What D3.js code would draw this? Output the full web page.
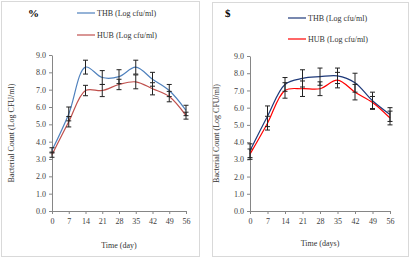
<!DOCTYPE html>
<style>
  body { margin: 0; background: #fff; }
  svg { display: block; font-family: 'Liberation Serif', serif; }
  .frame { fill: #fff; stroke: #d9d9d9; }
  .axis path, .axis line { stroke: #868686; }
  .axis text { font-size: 8px; fill: #404040; font-family: 'Liberation Serif', serif; }
  .err { stroke: #222; stroke-width: 1; }
  .ttl { font-size: 8px; fill: #333; }
</style>
<body>
</body>
<script src="https://cdn.jsdelivr.net/npm/d3@7"></script>
<script>
  const days = [0, 7, 14, 21, 28, 35, 42, 49, 56];
  const yTicks = [0, 1, 2, 3, 4, 5, 6, 7, 8, 9];

  // panel % (left)
  const thbA = [3.5, 5.6, 8.3, 7.7, 7.75, 8.3, 7.6, 6.95, 5.8];
  const thbAErr = [0.15, 0.4, 0.4, 0.4, 0.4, 0.4, 0.4, 0.35, 0.3];
  const hubA = [3.25, 5.15, 6.95, 6.95, 7.3, 7.45, 7.05, 6.6, 5.5];
  const hubAErr = [0.15, 0.3, 0.3, 0.35, 0.3, 0.4, 0.35, 0.3, 0.2];

  // panel $ (right)
  const thbB = [3.5, 5.5, 7.35, 7.7, 7.8, 7.85, 7.45, 6.4, 5.6];
  const thbBErr = [0.4, 0.6, 0.4, 0.5, 0.5, 0.45, 0.55, 0.5, 0.4];
  const hubB = [3.3, 5.1, 7.0, 7.1, 7.1, 7.6, 6.9, 6.3, 5.4];
  const hubBErr = [0.3, 0.4, 0.45, 0.45, 0.4, 0.45, 0.45, 0.35, 0.4];

  const svg = d3.select('body').append('svg')
    .attr('width', 409).attr('height', 258);

  function panel(p) {
    const g = svg.append('g');
    g.append('rect').attr('class', 'frame')
      .attr('x', p.box[0] + 0.5).attr('y', p.box[1] + 0.5)
      .attr('width', p.box[2]).attr('height', p.box[3]);

    const x = d3.scaleLinear().domain([0, 56]).range([p.x0, p.x1]);
    const y = d3.scaleLinear().domain([0, 9]).range([p.y0, p.y1]);

    g.append('g').attr('class', 'axis')
      .attr('transform', `translate(${p.x0},0)`)
      .call(d3.axisLeft(y).tickValues(yTicks).tickSize(3).tickSizeOuter(0)
        .tickFormat(d3.format('.1f')));
    g.append('g').attr('class', 'axis')
      .attr('transform', `translate(0,${p.y0})`)
      .call(d3.axisBottom(x).tickValues(days).tickSize(3).tickSizeOuter(0)
        .tickPadding(4));

    const line = d3.line()
      .x((d, i) => x(days[i])).y(d => y(d))
      .curve(d3.curveCatmullRom.alpha(0.5));

    p.series.forEach(s => {
      g.append('path').attr('d', line(s.vals))
        .attr('fill', 'none').attr('stroke', s.color).attr('stroke-width', 1.2);
    });
    p.series.forEach(s => {
      const eg = g.append('g').attr('class', 'err');
      s.vals.forEach((v, i) => {
        const cx = x(days[i]), lo = y(v - s.err[i]), hi = y(v + s.err[i]);
        eg.append('line').attr('x1', cx).attr('x2', cx).attr('y1', lo).attr('y2', hi);
        eg.append('line').attr('x1', cx - 2.5).attr('x2', cx + 2.5).attr('y1', lo).attr('y2', lo);
        eg.append('line').attr('x1', cx - 2.5).attr('x2', cx + 2.5).attr('y1', hi).attr('y2', hi);
      });
    });

    // legend
    p.series.forEach((s, i) => {
      const ly = p.legY[i];
      g.append('line').attr('x1', p.legX).attr('x2', p.legX + 18)
        .attr('y1', ly).attr('y2', ly).attr('stroke', s.color).attr('stroke-width', 1.2);
      g.append('text').attr('class', 'ttl').attr('x', p.legX + 20).attr('y', ly + 3)
        .text(s.name);
    });

    g.append('text').attr('x', p.mark[0]).attr('y', p.mark[1])
      .attr('font-size', 11).attr('font-weight', 'bold').text(p.label);

    g.append('text').attr('class', 'ttl')
      .attr('transform', `translate(${p.yTitleX},${(p.y0 + p.y1) / 2}) rotate(-90)`)
      .attr('text-anchor', 'middle').text('Bacterial Count (Log CFU/ml)');
    g.append('text').attr('class', 'ttl')
      .attr('x', (p.x0 + p.x1) / 2).attr('y', p.xTitleY)
      .attr('text-anchor', 'middle').text(p.xTitle);
  }

  panel({
    box: [1, 1, 198, 255], x0: 52, x1: 186, y0: 211, y1: 55,
    legX: 77, legY: [13, 35], mark: [28, 17], label: '%',
    yTitleX: 14, xTitleY: 248, xTitle: 'Time (day)',
    series: [
      {name: 'THB (Log cfu/ml)', color: '#4f81bd', vals: thbA, err: thbAErr},
      {name: 'HUB (Log cfu/ml)', color: '#c0504d', vals: hubA, err: hubAErr}
    ]
  });

  panel({
    box: [212, 2, 196, 254], x0: 250, x1: 390, y0: 211, y1: 56,
    legX: 288, legY: [18, 39], mark: [225, 17], label: '$',
    yTitleX: 219, xTitleY: 246, xTitle: 'Time (days)',
    series: [
      {name: 'THB (Log cfu/ml)', color: '#1f3a7a', vals: thbB, err: thbBErr},
      {name: 'HUB (Log cfu/ml)', color: '#ff0000', vals: hubB, err: hubBErr}
    ]
  });
</script>
